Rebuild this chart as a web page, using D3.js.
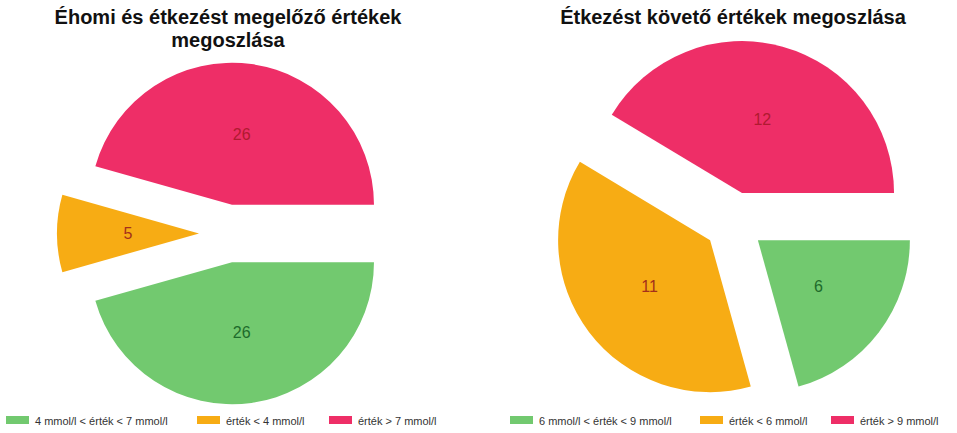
<!DOCTYPE html>
<html>
<head>
<meta charset="utf-8">
<script src="https://cdn.jsdelivr.net/npm/d3@7"></script>
<style>
  html, body { margin: 0; padding: 0; background: #fff; }
  svg { display: block; font-family: "Liberation Sans", Arial, sans-serif; }
</style>
</head>
<body>
<svg id="chart" width="957" height="433"></svg>
<script>
// ---- data ----
const leftTitle = ["Éhomi és étkezést megelőző értékek", "megoszlása"];
const leftCategories = ["4 mmol/l < érték < 7 mmol/l", "érték < 4 mmol/l", "érték > 7 mmol/l"];
const leftValues = [26, 5, 26];

const rightTitle = ["Étkezést követő értékek megoszlása"];
const rightCategories = ["6 mmol/l < érték < 9 mmol/l", "érték < 6 mmol/l", "érték > 9 mmol/l"];
const rightValues = [6, 11, 12];

const sliceColors = ["#72c96f", "#f7ac14", "#ee2e67"];
const labelColors = ["#1e6b2b", "#a4301b", "#b01a30"];

// ---- layout ----
const svg = d3.select("#chart");

const panels = [
  { title: leftTitle, cats: leftCategories, vals: leftValues,
    cx: 228, cy: 233.5, r: 142, explode: 29, titleX: 228, titleY: 24,
    legendX: [6, 197, 329] },
  { title: rightTitle, cats: rightCategories, vals: rightValues,
    cx: 734, cy: 222, r: 152, explode: 30, titleX: 733, titleY: 24,
    legendX: [510, 700, 831] }
];

const pie = d3.pie().sort(null)
  .startAngle(Math.PI / 2)
  .endAngle(Math.PI / 2 + 2 * Math.PI);

panels.forEach(p => {
  const g = svg.append("g");

  // title
  const t = g.append("text")
    .attr("x", p.titleX).attr("y", p.titleY)
    .attr("text-anchor", "middle")
    .attr("font-size", 20).attr("font-weight", "bold")
    .attr("fill", "#111");
  p.title.forEach((line, i) => {
    t.append("tspan").attr("x", p.titleX).attr("dy", i === 0 ? 0 : 23).text(line);
  });

  const arc = d3.arc().innerRadius(0).outerRadius(p.r);
  const arcs = pie(p.vals);

  const slices = g.append("g").attr("transform", `translate(${p.cx},${p.cy})`)
    .selectAll("g").data(arcs).join("g")
    .attr("transform", d => {
      const mid = (d.startAngle + d.endAngle) / 2;
      return `translate(${Math.sin(mid) * p.explode},${-Math.cos(mid) * p.explode})`;
    });

  slices.append("path")
    .attr("d", arc)
    .attr("fill", (d, i) => sliceColors[i]);

  slices.append("text")
    .attr("transform", d => `translate(${arc.centroid(d)})`)
    .attr("text-anchor", "middle")
    .attr("dy", "0.35em")
    .attr("font-size", 16)
    .attr("fill", (d, i) => labelColors[i])
    .text(d => d.data);

  // legend
  const leg = g.append("g");
  p.cats.forEach((c, i) => {
    leg.append("rect")
      .attr("x", p.legendX[i]).attr("y", 416)
      .attr("width", 23).attr("height", 8)
      .attr("fill", sliceColors[i]);
    leg.append("text")
      .attr("x", p.legendX[i] + 29).attr("y", 424.5)
      .attr("font-size", 11)
      .attr("fill", "#333")
      .text(c);
  });
});
</script>
</body>
</html>
